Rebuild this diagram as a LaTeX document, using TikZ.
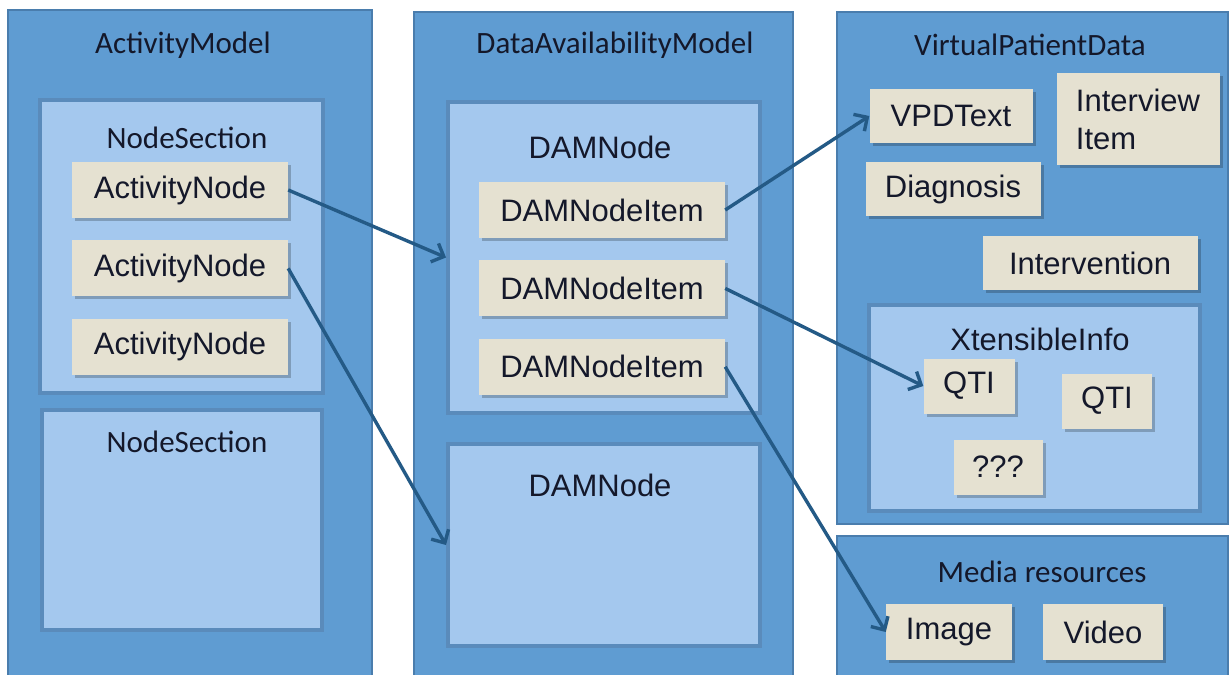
\documentclass[tikz,border=0pt]{standalone}
\usepackage{fontspec}
\setmainfont{Liberation Sans}
\newfontfamily\headfont{Carlito}
\usetikzlibrary{arrows.meta,positioning,fit,shadows}
\definecolor{modelblue}{HTML}{5F9CD2}
\definecolor{modelline}{HTML}{4A7DAD}
\definecolor{sectionblue}{HTML}{A4C8EE}
\definecolor{sectionline}{HTML}{5A8BBB}
\definecolor{itembeige}{HTML}{E5E1D1}
\definecolor{linkblue}{HTML}{245A86}
\definecolor{titleink}{HTML}{14182A}

\begin{document}
\begin{tikzpicture}[
    x=1pt, y=-1pt,
    model/.style={draw=modelline, line width=2pt, fill=modelblue, inner sep=0pt},
    section/.style={draw=sectionline, line width=4pt, fill=sectionblue, inner sep=0pt},
    item/.style={fill=itembeige, inner sep=0pt, minimum height=56pt, text=titleink,
        font=\fontsize{31}{38}\selectfont,
        drop shadow={shadow xshift=3pt, shadow yshift=-3pt, opacity=0.22, fill=black}},
    head/.style={inner sep=0pt, text=titleink, font=\headfont\fontsize{31}{36}\selectfont},
    plainhead/.style={head, font=\fontsize{31}{36}\selectfont},
    link/.style={-{Straight Barb[length=10pt,width=20pt]}, line width=3.4pt, draw=linkblue}
]
\useasboundingbox (0,0) rectangle (1230,674);
\clip (0,0) rectangle (1230,674);

% activity model column
\node[model, fit={(8,10) (372,700)}] (am) {};
\node[head] (amtitle) at (183,45) {ActivityModel};
\node[section, fit={(40,100) (323,393)}] (ns1) {};
\node[head] (ns1title) at (187,138) {NodeSection};
\node[item, minimum width=216pt] (an1) at (180,190) {ActivityNode};
\node[item, minimum width=216pt, below=22pt of an1] (an2) {ActivityNode};
\node[item, minimum width=216pt, below=22pt of an2] (an3) {ActivityNode};
\node[section, fit={(42,410) (322,630)}] (ns2) {};
\node[head] (ns2title) at (187,442) {NodeSection};

% data availability column
\node[model, fit={(414,12) (793,700)}] (dam) {};
\node[head] (damtitle) at (615,45) {DataAvailabilityModel};
\node[section, fit={(448,102) (760,413)}] (dn1) {};
\node[plainhead] (dn1title) at (600,147) {DAMNode};
\node[item, minimum width=246pt] (di1) at (602,210) {DAMNodeItem};
\node[item, minimum width=246pt, below=22pt of di1] (di2) {DAMNodeItem};
\node[item, minimum width=246pt, below=22pt of di2] (di3) {DAMNodeItem};
\node[section, fit={(448,444) (760,646)}] (dn2) {};
\node[plainhead] (dn2title) at (600,485) {DAMNode};

% virtual patient data
\node[model, fit={(837,12) (1228,524)}] (vpd) {};
\node[head] (vpdtitle) at (1030,45) {VirtualPatientData};
\node[item, minimum width=163pt, minimum height=54pt] (vtext) at (951,116) {VPDText};
\node[item, minimum width=163pt, minimum height=92pt, align=left] (interview) at (1138,119) {Interview\\Item};
\node[item, minimum width=175pt, minimum height=54pt] (diag) at (953,189) {Diagnosis};
\node[item, minimum width=215pt, minimum height=54pt] (interv) at (1090,263) {Intervention};
\node[section, fit={(869,305) (1200,511)}] (xi) {};
\node[plainhead] (xititle) at (1040,339) {XtensibleInfo};
\node[item, minimum width=91pt, minimum height=55pt] (qti1) at (969,386) {QTI};
\node[item, minimum width=90pt, minimum height=55pt] (qti2) at (1107,401) {QTI};
\node[item, minimum width=89pt, minimum height=55pt] (unknown) at (998,467) {???};

% media resources
\node[model, fit={(837,536) (1228,700)}] (media) {};
\node[head] (mediatitle) at (1042,572) {Media resources};
\node[item, minimum width=126pt] (image) at (949,632) {Image};
\node[item, minimum width=120pt] (video) at (1103,632) {Video};

\draw[link] (an1.east) -- (dn1.west);
\draw[link] (an2.east) -- (dn2.west);
\draw[link] (di1.east) -- (vtext.west);
\draw[link] (di2.east) -- (qti1.west);
\draw[link] (di3.east) -- (image.west);
\end{tikzpicture}
\end{document}
